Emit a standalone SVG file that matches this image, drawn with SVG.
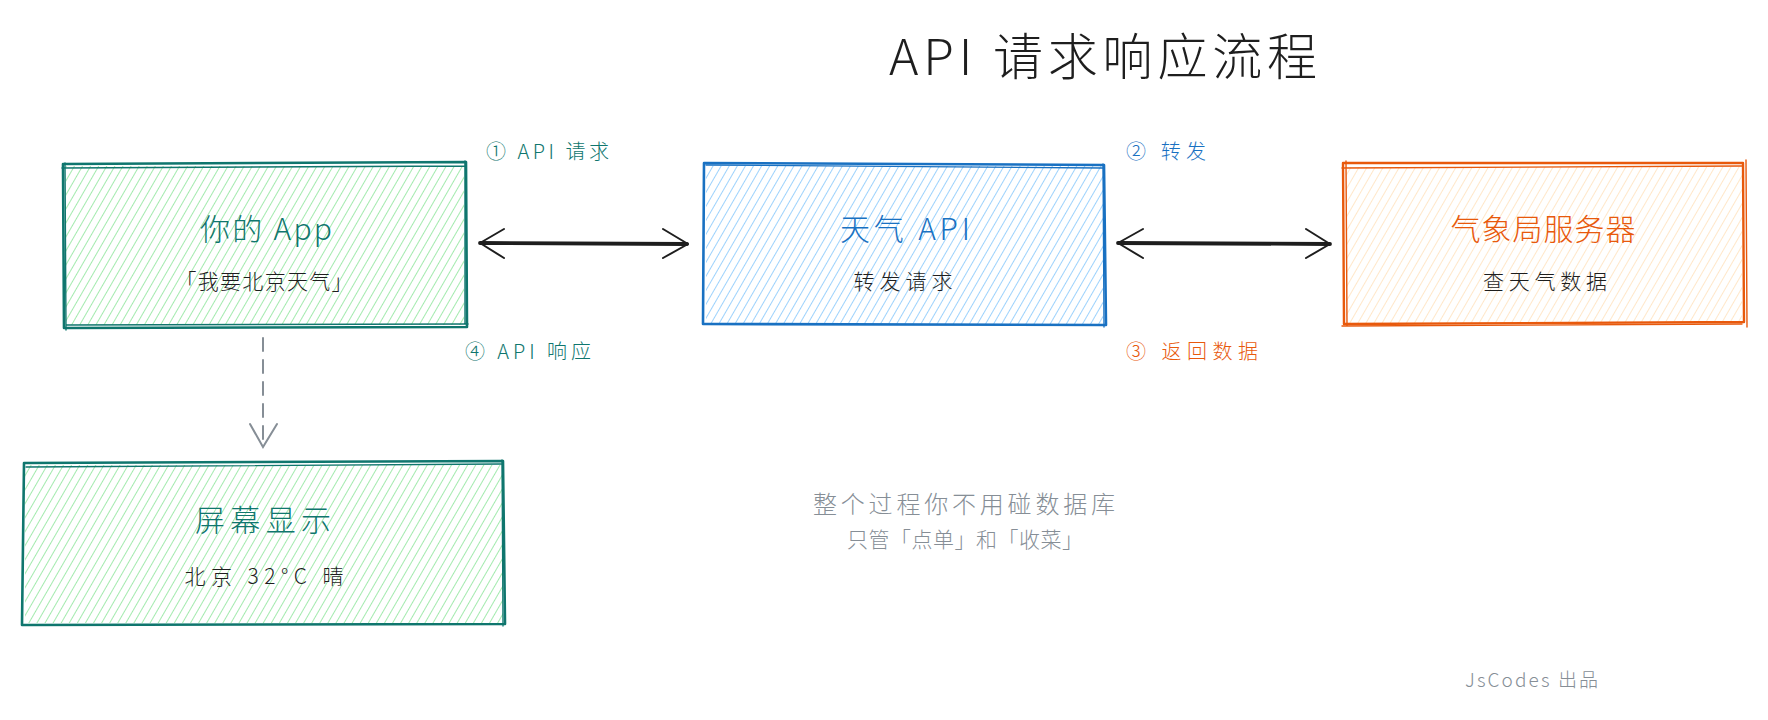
<svg xmlns="http://www.w3.org/2000/svg" width="1768" height="720" viewBox="0 0 1768 720">
  <defs>
    <pattern id="hGreen" patternUnits="userSpaceOnUse" width="7" height="8" patternTransform="rotate(30)">
      <line x1="0" y1="0" x2="0" y2="8" stroke="#a3eaae" stroke-width="2"/>
    </pattern>
    <pattern id="hBlue" patternUnits="userSpaceOnUse" width="7" height="8" patternTransform="rotate(30)">
      <line x1="0" y1="0" x2="0" y2="8" stroke="#9dd2fc" stroke-width="2"/>
    </pattern>
    <pattern id="hOrange" patternUnits="userSpaceOnUse" width="7" height="8" patternTransform="rotate(30)">
      <line x1="0" y1="0" x2="0" y2="8" stroke="#ffdcb0" stroke-width="1.6" stroke-opacity="0.85"/>
    </pattern>
  </defs>
  <style>
    text { font-family: "Noto Sans CJK SC", "Noto Sans", sans-serif; font-weight: 300; }
    .title { font-size: 50px; fill: #1e1e1e; }
    .head { font-size: 30px; }
    .sub { font-size: 21px; fill: #1e1e1e; }
    .lbl { font-size: 20px; }
    .note { fill: #868e96; }
    .teal { fill: #0f766e; }
    .blue { fill: #1971c2; }
    .orange { fill: #e8590c; }
    .edge { fill: none; stroke-linecap: round; stroke-linejoin: round; }
    .sTeal { stroke: #0f766e; }
    .sBlue { stroke: #1971c2; }
    .sOrange { stroke: #e8590c; }
    .arrow { fill: none; stroke: #1e1e1e; stroke-linecap: round; stroke-linejoin: round; }
    .dash { fill: none; stroke: #868e96; stroke-width: 2; stroke-linecap: round; }
  </style>

  <text class="title" x="1103" y="75" text-anchor="middle" textLength="428" lengthAdjust="spacing">API 请求响应流程</text>

  <g id="connectors">
    <!-- App <-> API -->
    <path class="arrow" stroke-width="3.8" d="M480 243 L687 244"/>
    <path class="arrow" stroke-width="2" d="M504 229 L480 243 L504 258"/>
    <path class="arrow" stroke-width="2" d="M663 229 L688 244 L663 258"/>
    <!-- API <-> Server -->
    <path class="arrow" stroke-width="3.8" d="M1118 243 L1330 244"/>
    <path class="arrow" stroke-width="2" d="M1143 229 L1118 243 L1143 258"/>
    <path class="arrow" stroke-width="2" d="M1306 229 L1330 244 L1306 258"/>
    <!-- App -> Screen -->
    <path class="dash" stroke-dasharray="13 9" d="M263 338 L263 444"/>
    <path class="dash" d="M250 424 L263 447 L277 424"/>
    <text class="lbl teal" x="486" y="159" textLength="123" lengthAdjust="spacing">① API 请求</text>
    <text class="lbl teal" x="465" y="359" textLength="126" lengthAdjust="spacing">④ API 响应</text>
    <text class="lbl blue" x="1126" y="159" textLength="80" lengthAdjust="spacing">② 转发</text>
    <text class="lbl orange" x="1126" y="359" textLength="132" lengthAdjust="spacing">③ 返回数据</text>
  </g>

  <g id="node-app">
    <rect x="66" y="166" width="398" height="159" fill="url(#hGreen)"/>
    <path class="edge sTeal" stroke-width="2.6" d="M63 164 L466 162 L467 327 L64 328 Z"/>
    <path class="edge sTeal" stroke-width="1.4" d="M62 168 L465 166 M465 161 L465 323 M66 325 L468 324 M65 163 L66 330"/>
    <text class="head teal" x="266" y="240" text-anchor="middle" textLength="132" lengthAdjust="spacing">你的 App</text>
    <text class="sub" x="264" y="289" text-anchor="middle" textLength="177" lengthAdjust="spacing">「我要北京天气」</text>
  </g>

  <g id="node-api">
    <rect x="706" y="166" width="397" height="159" fill="url(#hBlue)"/>
    <path class="edge sBlue" stroke-width="2.6" d="M704 163 L1104 165 L1106 325 L703 324 Z"/>
    <path class="edge sBlue" stroke-width="1.3" d="M706 165 L1102 168 M1103 164 L1104 327"/>
    <text class="head blue" x="905" y="240" text-anchor="middle" textLength="130" lengthAdjust="spacing">天气 API</text>
    <text class="sub" x="903" y="289" text-anchor="middle" textLength="99" lengthAdjust="spacing">转发请求</text>
  </g>

  <g id="node-server">
    <rect x="1346" y="167" width="396" height="156" fill="url(#hOrange)"/>
    <path class="edge sOrange" stroke-width="2.4" d="M1343 163 L1743 163 L1744 322 L1344 324 Z"/>
    <path class="edge sOrange" stroke-width="1.4" d="M1342 168 L1742 166 M1346 161 L1347 325 M1342 326 L1742 324 M1746 160 L1747 327"/>
    <text class="head orange" x="1543" y="240" text-anchor="middle" textLength="185" lengthAdjust="spacing">气象局服务器</text>
    <text class="sub" x="1545" y="289" text-anchor="middle" textLength="124" lengthAdjust="spacing">查天气数据</text>
  </g>

  <g id="node-screen">
    <rect x="25" y="465" width="478" height="158" fill="url(#hGreen)"/>
    <path class="edge sTeal" stroke-width="2.6" d="M24 463 L503 461 L505 624 L22 625 Z"/>
    <path class="edge sTeal" stroke-width="1.3" d="M26 467 L501 464 M502 460 L503 626"/>
    <text class="head teal" x="263" y="531" text-anchor="middle" textLength="136" lengthAdjust="spacing">屏幕显示</text>
    <text class="sub" x="264" y="584" text-anchor="middle" textLength="159" lengthAdjust="spacing">北京 32°C 晴</text>
  </g>

  <g id="note">
    <text class="note" font-size="24" x="964" y="513" text-anchor="middle" textLength="302" lengthAdjust="spacing">整个过程你不用碰数据库</text>
    <text class="note" font-size="21" x="965" y="547" text-anchor="middle" textLength="236" lengthAdjust="spacing">只管「点单」和「收菜」</text>
  </g>

  <g id="credit">
    <text class="note" font-size="19" x="1465" y="687" textLength="133" lengthAdjust="spacing">JsCodes 出品</text>
  </g>
</svg>
